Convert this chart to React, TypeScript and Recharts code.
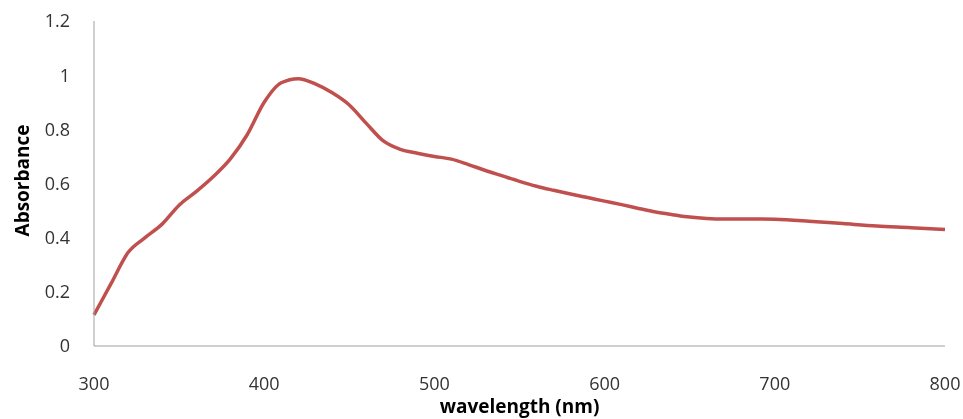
import { LineChart, Line, XAxis, YAxis, Label } from "recharts";

const wavelengths = [
  300, 310, 320, 330, 340, 350, 360, 370, 380, 390, 400, 410, 420, 430, 440,
  450, 460, 470, 480, 490, 500, 510, 520, 530, 540, 550, 560, 570, 580, 590,
  600, 610, 620, 630, 640, 650, 660, 670, 680, 690, 700, 720, 740, 760, 780,
  800,
];

const absorbance = [
  0.115, 0.23, 0.345, 0.4, 0.45, 0.52, 0.57, 0.625, 0.69, 0.78, 0.9, 0.972,
  0.987, 0.968, 0.935, 0.89, 0.822, 0.757, 0.726, 0.712, 0.7, 0.69, 0.67,
  0.648, 0.628, 0.608, 0.59, 0.575, 0.561, 0.548, 0.535, 0.522, 0.508, 0.495,
  0.485, 0.476, 0.471, 0.469, 0.469, 0.469, 0.468, 0.461, 0.452, 0.443, 0.437,
  0.43,
];

const xTicks = [300, 400, 500, 600, 700, 800];
const yTicks = [0, 0.2, 0.4, 0.6, 0.8, 1, 1.2];

const data = wavelengths.map((w, i) => ({ wavelength: w, absorbance: absorbance[i] }));

const FONT = "'Open Sans', sans-serif";
const AXIS_COLOR = "#a0a0a0";
const TEXT_COLOR = "#333";

export default function App() {
  // pinned to the page corner so the whole 963x419 window is usable
  return (
    <div style={{ position: "fixed", left: 0, top: 0, width: 963, height: 419 }}>
      <LineChart
        width={963}
        height={419}
        data={data}
        margin={{ top: 21, right: 18, bottom: 0, left: 0 }}
      >
        <XAxis
          dataKey="wavelength"
          type="number"
          domain={[300, 800]}
          ticks={xTicks}
          height={73}
          stroke={AXIS_COLOR}
          tickLine={false}
          tickSize={6}
          tickMargin={25}
          tick={{ fill: TEXT_COLOR, fontSize: 18, fontFamily: FONT }}
        >
          <Label
            content={({ viewBox }: any) => (
              <text
                x={viewBox.x + viewBox.width / 2}
                y={viewBox.y + viewBox.height - 6}
                textAnchor="middle"
                fill="#000"
                fontSize={19}
                fontWeight="bold"
                fontFamily={FONT}
              >
                wavelength (nm)
              </text>
            )}
          />
        </XAxis>
        <YAxis
          type="number"
          domain={[0, 1.2]}
          ticks={yTicks}
          width={94}
          stroke={AXIS_COLOR}
          tickLine={false}
          tickSize={6}
          tickMargin={18}
          tick={{ fill: TEXT_COLOR, fontSize: 18, fontFamily: FONT }}
        >
          <Label
            content={({ viewBox }: any) => {
              const x = viewBox.x + 22;
              const y = viewBox.y + viewBox.height / 2 - 3;
              return (
                <text
                  x={x}
                  y={y}
                  transform={`rotate(-90, ${x}, ${y})`}
                  textAnchor="middle"
                  dominantBaseline="central"
                  fill="#000"
                  fontSize={19}
                  fontWeight="bold"
                  fontFamily={FONT}
                >
                  Absorbance
                </text>
              );
            }}
          />
        </YAxis>
        <Line
          type="monotone"
          dataKey="absorbance"
          stroke="#C0504D"
          strokeWidth={3.5}
          dot={false}
          isAnimationActive={false}
        />
      </LineChart>
    </div>
  );
}
